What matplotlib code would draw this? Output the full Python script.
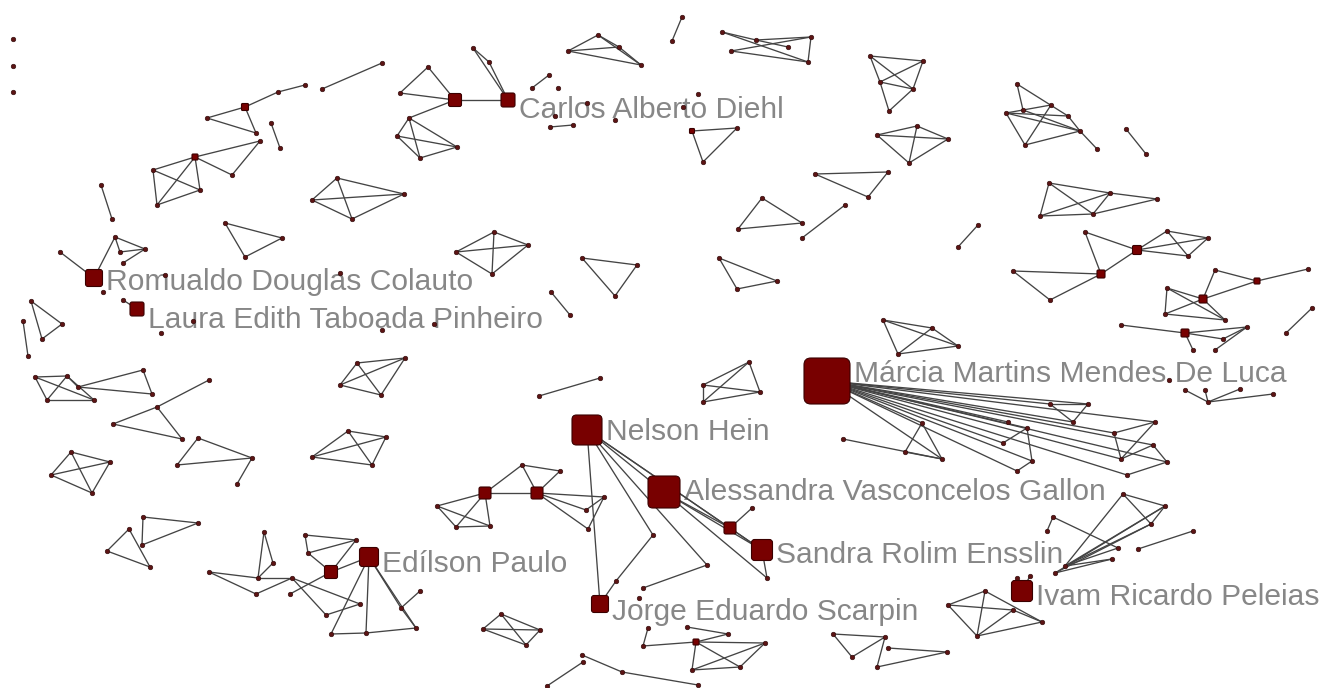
import matplotlib.pyplot as plt
from matplotlib.collections import LineCollection
from matplotlib.patches import FancyBboxPatch

# node positions are in picture units (x to the right, y downward)
# each group: list of nodes (x, y[, square side]) and edges by local index
groups = [
    ([(13, 39), (13, 66), (13, 92)], []),
    ([(245, 107, 7), (207, 118), (256, 133), (278, 92), (305, 85)],
     [(0, 1), (0, 2), (1, 2), (0, 3), (3, 4)]),
    ([(322, 89), (382, 63)], [(0, 1)]),
    ([(271, 123), (280, 148)], [(0, 1)]),
    ([(195, 157, 6), (153, 170), (200, 190), (157, 205), (260, 141), (232, 175)],
     [(0, 1), (0, 2), (0, 3), (1, 2), (1, 3), (3, 2), (0, 4), (0, 5), (5, 4)]),
    ([(101, 185), (112, 219)], [(0, 1)]),
    ([(337, 178), (312, 200), (404, 194), (352, 219)],
     [(0, 1), (0, 2), (0, 3), (1, 2), (1, 3), (2, 3)]),
    ([(225, 223), (282, 238), (245, 257)], [(0, 1), (0, 2), (1, 2)]),
    ([(455, 100, 13), (508, 100, 14), (473, 48), (489, 62), (428, 67), (400, 93),
      (409, 118), (397, 136), (420, 158), (457, 147)],
     [(0, 1), (1, 2), (1, 3), (2, 3), (0, 4), (0, 5), (4, 5), (0, 6), (6, 7),
      (6, 8), (6, 9), (7, 8), (7, 9), (8, 9)]),
    ([(532, 88), (549, 75), (558, 88)], [(0, 1)]),
    ([(550, 127), (573, 125), (555, 116), (615, 120), (587, 103), (698, 94), (683, 107)],
     [(0, 1)]),
    ([(598, 35), (568, 51), (619, 47), (641, 65)],
     [(1, 0), (0, 2), (1, 2), (1, 3), (2, 3), (0, 3)]),
    ([(682, 17), (672, 41)], [(0, 1)]),
    ([(722, 32), (756, 40), (811, 37), (788, 47), (731, 51), (808, 62)],
     [(0, 5), (4, 2), (1, 2), (4, 5), (1, 3), (2, 5), (0, 1)]),
    ([(692, 131, 5), (737, 128), (703, 162)], [(0, 1), (0, 2), (1, 2)]),
    ([(815, 174), (888, 172), (868, 197)], [(0, 1), (0, 2), (1, 2)]),
    ([(762, 198), (738, 229), (802, 223)], [(0, 1), (0, 2), (1, 2)]),
    ([(845, 205), (802, 238)], [(0, 1)]),
    ([(870, 56), (923, 61), (880, 82), (913, 89), (889, 111)],
     [(0, 1), (0, 3), (1, 2), (1, 3), (2, 3), (2, 4), (3, 4), (0, 2)]),
    ([(877, 135), (917, 126), (948, 139), (909, 163)],
     [(0, 1), (0, 2), (0, 3), (1, 2), (1, 3), (2, 3)]),
    ([(1017, 84), (1006, 113), (1023, 110), (1051, 105), (1068, 116), (1080, 131),
      (1025, 145), (1097, 149)],
     [(0, 2), (0, 4), (1, 4), (1, 6), (2, 3), (2, 5), (6, 3), (6, 5), (4, 5),
      (5, 7), (1, 5), (1, 2)]),
    ([(1126, 129), (1146, 154)], [(0, 1)]),
    ([(1049, 183), (1110, 193), (1157, 199), (1040, 216), (1093, 214)],
     [(0, 1), (1, 2), (0, 3), (0, 4), (3, 1), (3, 4), (1, 4), (4, 2)]),
    ([(978, 225), (958, 247)], [(0, 1)]),
    ([(1085, 232), (1137, 250, 9), (1167, 231), (1208, 238), (1188, 256),
      (1101, 274, 8), (1013, 271), (1050, 300)],
     [(0, 5), (0, 1), (6, 5), (6, 7), (7, 5), (5, 1), (1, 2), (1, 3), (1, 4),
      (2, 4), (2, 3), (4, 3)]),
    ([(1215, 270), (1257, 281, 6), (1308, 269), (1167, 288), (1203, 299, 8),
      (1165, 314), (1225, 320)],
     [(0, 4), (0, 1), (1, 2), (4, 1), (3, 4), (3, 5), (3, 6), (5, 4), (5, 6), (4, 6)]),
    ([(1312, 308), (1286, 333)], [(0, 1)]),
    ([(1121, 325), (1185, 333, 8), (1247, 327), (1223, 339), (1193, 350), (1215, 350)],
     [(0, 1), (1, 2), (1, 3), (1, 4), (5, 2), (3, 2)]),
    ([(883, 320), (932, 328), (958, 346), (898, 354)],
     [(0, 1), (0, 2), (0, 3), (1, 2), (3, 1), (3, 2)]),
    ([(1169, 380)], []),
    ([(1208, 402), (1240, 389), (1273, 394), (1185, 390), (1205, 390)],
     [(0, 1), (0, 2), (3, 0), (4, 0)]),
    ([(827, 381, 46), (1050, 404), (1088, 404), (1073, 422), (1008, 422), (1027, 428),
      (1003, 443), (1155, 422), (1114, 433), (1121, 459), (1153, 445), (1167, 462),
      (1032, 461), (1017, 471), (1127, 475), (922, 423), (942, 459), (905, 452),
      (843, 439)],
     [(0, 1), (0, 2), (0, 3), (0, 4), (0, 5), (0, 6), (0, 7), (0, 8), (0, 9),
      (0, 10), (0, 11), (0, 12), (0, 13), (0, 14), (0, 15), (0, 16),
      (1, 2), (1, 3), (3, 2), (6, 5), (5, 12), (8, 7), (8, 9), (7, 9), (10, 11),
      (9, 10), (15, 17), (15, 16), (17, 16), (18, 16), (13, 12), (14, 11)]),
    ([(1022, 591, 21), (1123, 494), (1165, 506), (1151, 524), (1053, 517), (1047, 531),
      (1118, 548), (1065, 566), (1112, 559), (1055, 573), (1138, 549), (1193, 531),
      (1017, 578), (1030, 576)],
     [(1, 2), (1, 3), (2, 3), (4, 5), (4, 6), (1, 7), (2, 9), (3, 7), (3, 9),
      (6, 7), (8, 9), (8, 7), (10, 11), (0, 12), (0, 13), (2, 7)]),
    ([(985, 591), (948, 605), (1013, 610), (1042, 622), (977, 636)],
     [(0, 1), (0, 3), (0, 4), (1, 2), (1, 4), (4, 2), (4, 3), (2, 3)]),
    ([(833, 634), (885, 637), (852, 657), (877, 667), (888, 648), (947, 652)],
     [(0, 1), (0, 2), (2, 1), (1, 3), (4, 5), (3, 5)]),
    ([(587, 430, 30), (664, 492, 32), (730, 528, 12), (762, 550, 21), (600, 604, 17),
      (653, 535), (707, 565), (767, 578), (616, 581), (643, 588), (752, 508), (639, 598)],
     [(0, 1), (0, 2), (0, 3), (0, 4), (0, 5), (0, 6), (1, 2), (1, 3), (2, 3),
      (1, 7), (3, 7), (5, 8), (8, 4), (6, 9), (2, 10)]),
    ([(369, 557, 19), (331, 572, 13), (305, 535), (356, 540), (308, 553), (290, 594),
      (326, 615), (360, 604), (331, 634), (366, 633), (416, 628), (401, 608),
      (420, 591), (292, 578), (264, 532), (273, 563), (258, 578), (209, 572),
      (256, 594)],
     [(2, 3), (2, 4), (4, 3), (4, 1), (3, 1), (1, 0), (1, 5), (13, 7), (13, 6),
      (7, 6), (0, 8), (0, 9), (0, 11), (0, 10), (8, 9), (9, 10), (11, 10), (11, 12),
      (14, 16), (14, 15), (15, 16), (17, 16), (16, 13), (17, 18), (18, 13)]),
    ([(485, 493, 12), (537, 493, 12), (522, 465), (560, 471), (456, 527), (490, 526),
      (437, 506), (604, 497), (586, 510), (588, 529)],
     [(0, 1), (0, 2), (2, 3), (2, 1), (1, 3), (0, 6), (6, 4), (6, 5), (0, 4),
      (0, 5), (4, 5), (1, 7), (1, 8), (1, 9), (8, 7), (9, 7)]),
    ([(501, 614), (483, 629), (540, 630), (526, 645)],
     [(0, 1), (0, 2), (0, 3), (1, 2), (1, 3), (2, 3)]),
    ([(696, 642, 6), (643, 646), (648, 628), (728, 634), (765, 643), (692, 670),
      (740, 667), (687, 627)],
     [(1, 0), (0, 3), (0, 4), (0, 5), (0, 6), (5, 6), (5, 4), (6, 4), (2, 1), (7, 3)]),
    ([(582, 655), (583, 662), (622, 672), (698, 685), (547, 686)],
     [(0, 2), (2, 3), (1, 4)]),
    ([(71, 452), (110, 462), (51, 475), (92, 493)],
     [(0, 1), (0, 2), (0, 3), (1, 2), (1, 3), (2, 3)]),
    ([(143, 517), (198, 523), (142, 545), (129, 529), (107, 551), (150, 567)],
     [(0, 1), (0, 2), (2, 1), (3, 4), (3, 5), (4, 5)]),
    ([(94, 278, 17), (60, 252), (115, 237), (120, 252), (145, 249), (123, 263)],
     [(1, 0), (0, 2), (2, 4), (2, 3), (3, 4), (5, 4)]),
    ([(137, 309, 14), (123, 300)], [(0, 1)]),
    ([(165, 275), (340, 273), (193, 321), (161, 333), (382, 330), (434, 324),
      (103, 292)], []),
    ([(31, 301), (62, 324), (42, 339)], [(0, 1), (0, 2), (1, 2)]),
    ([(23, 321), (28, 356)], [(0, 1)]),
    ([(35, 377), (67, 376), (78, 387), (47, 400), (94, 400), (143, 370), (152, 394)],
     [(0, 1), (0, 4), (0, 3), (1, 3), (1, 4), (3, 4), (2, 5), (2, 6), (5, 6), (1, 2)]),
    ([(209, 380), (157, 407), (113, 424), (182, 439)],
     [(0, 1), (1, 2), (1, 3), (2, 3)]),
    ([(198, 438), (252, 458), (177, 465), (237, 484)],
     [(0, 1), (0, 2), (2, 1), (1, 3)]),
    ([(357, 363), (405, 358), (340, 385), (381, 395)],
     [(0, 1), (0, 2), (0, 3), (1, 2), (1, 3), (2, 3)]),
    ([(348, 431), (386, 437), (312, 457), (372, 465)],
     [(0, 1), (0, 2), (0, 3), (1, 2), (1, 3), (2, 3)]),
    ([(494, 232), (528, 245), (456, 252), (492, 274)],
     [(0, 1), (0, 2), (0, 3), (1, 2), (1, 3), (2, 3)]),
    ([(582, 258), (637, 265), (615, 296)], [(0, 1), (0, 2), (1, 2)]),
    ([(551, 292), (570, 315)], [(0, 1)]),
    ([(719, 258), (777, 281), (737, 289)], [(0, 1), (0, 2), (1, 2)]),
    ([(539, 396), (600, 378)], [(0, 1)]),
    ([(749, 362), (703, 385), (760, 392), (703, 402)],
     [(0, 1), (0, 2), (0, 3), (1, 2), (1, 3), (2, 3)]),
]

label_names = ["Carlos Alberto Diehl", "Romualdo Douglas Colauto",
               "Laura Edith Taboada Pinheiro", "Márcia Martins Mendes De Luca",
               "Nelson Hein", "Alessandra Vasconcelos Gallon", "Sandra Rolim Ensslin",
               "Edílson Paulo", "Jorge Eduardo Scarpin", "Ivam Ricardo Peleias"]
label_x = [508, 94, 137, 827, 587, 664, 762, 369, 600, 1022]
label_y = [100, 278, 309, 381, 430, 492, 550, 557, 604, 591]
label_side = [14, 17, 14, 46, 30, 32, 21, 19, 17, 21]
label_dy = [18, 12, 19, 1, 10, 8, 13, 15, 16, 14]

fig = plt.figure(figsize=(13.23, 6.88), dpi=100)
ax = fig.add_axes([0, 0, 1, 1])
ax.set_xlim(0, 1323)
ax.set_ylim(688, 0)
ax.axis("off")

segs = []
small_x, small_y = [], []
for nodes, edges in groups:
    for a, b in edges:
        segs.append([nodes[a][:2], nodes[b][:2]])
    for n in nodes:
        if len(n) == 3:
            s = n[2]
            r = max(1.0, s * 0.15)
            ax.add_patch(FancyBboxPatch((n[0] - s / 2 + r, n[1] - s / 2 + r), s - 2 * r, s - 2 * r,
                                        boxstyle="round,pad=%f" % r,
                                        facecolor="#780000", edgecolor="#3a0000",
                                        linewidth=0.8, zorder=4))
        else:
            small_x.append(n[0])
            small_y.append(n[1])

ax.add_collection(LineCollection(segs, colors="#444444", linewidths=0.95, zorder=2))
ax.scatter(small_x, small_y, marker="o", s=11, color="#5c1414",
           edgecolors="#2a0808", linewidths=0.4, zorder=3)

for name, x, y, s, dy in zip(label_names, label_x, label_y, label_side, label_dy):
    ax.text(x + s / 2 + 4, y + dy, name, fontsize=21.6, family="Liberation Sans",
            color="#878787", va="baseline", ha="left", zorder=1)

plt.savefig("out.png", dpi=100)
